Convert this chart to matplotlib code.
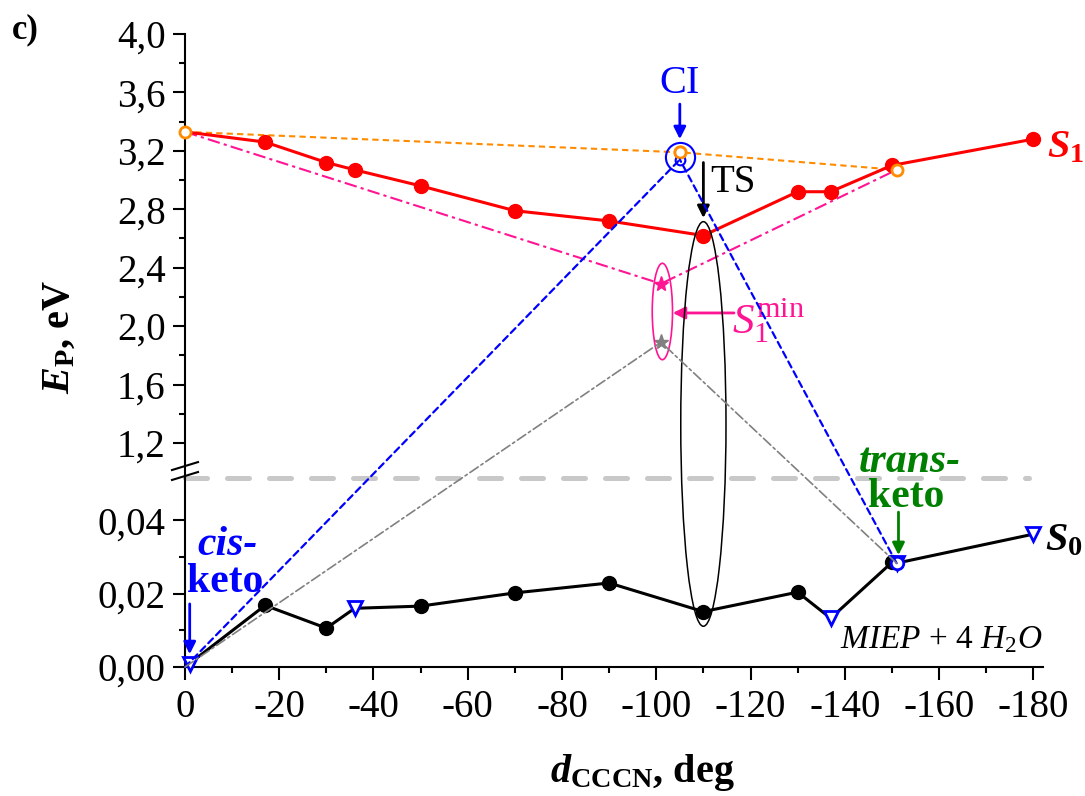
import numpy as np
import matplotlib
matplotlib.use('Agg')
import matplotlib.pyplot as plt
from matplotlib.patches import Ellipse, ConnectionPatch
from matplotlib.lines import Line2D
from matplotlib.ticker import FuncFormatter, FixedLocator

plt.rcParams['font.family'] = ['Liberation Serif', 'DejaVu Serif']
plt.rcParams['axes.unicode_minus'] = False
plt.rcParams['mathtext.fontset'] = 'custom'
plt.rcParams['mathtext.rm'] = 'Liberation Serif'
plt.rcParams['mathtext.it'] = 'Liberation Serif:italic'
plt.rcParams['mathtext.bf'] = 'Liberation Serif:bold'
plt.rcParams['mathtext.bfit'] = 'Liberation Serif:italic:bold'

# S1 scan (eV)
s1_x = [0, -17, -30, -36, -50, -70, -90, -110, -130, -137, -150, -180]
s1_e = [3.33, 3.26, 3.12, 3.07, 2.96, 2.79, 2.72, 2.62, 2.92, 2.92, 3.10, 3.28]

# S0 scan (eV)
s0_x = [0, -17, -30, -36, -50, -70, -90, -110, -130, -137, -150, -151, -180]
s0_e = [0.0, 0.0168, 0.0106, 0.016, 0.0166, 0.0202, 0.0229, 0.0151, 0.0204, 0.0133, 0.0285, 0.0283, 0.0362]
s0_dot_x = [-17, -30, -50, -70, -90, -110, -130, -150]
s0_dot_e = [0.0168, 0.0106, 0.0166, 0.0202, 0.0229, 0.0151, 0.0204, 0.0285]

# optimized S0 structures (triangles)
opt_x = [-1, -36, -137, -151, -180]
opt_e = [0.0008, 0.016, 0.0133, 0.0283, 0.0362]

# vertical S1 energies at cis, CI, trans geometries
vert_x = [0, -105, -151]
vert_e = [3.33, 3.19, 3.07]

# S1 min (pink) and S0 at S1 min geometry (gray)
s1min_x = -101
s1min_e = 2.29
s0min_e = 1.89

# CI point
ci_x = -105
ci_e = 3.16
ci_s0 = 3.14

# cis / trans keto
cis = (0, 0.0)
trans = (-151, 0.0283)

fig = plt.figure(figsize=(10.85, 7.96), dpi=100)
ax_top = fig.add_axes([0.1705, 0.3995, 0.7905, 0.5578])
ax_bot = fig.add_axes([0.1705, 0.162, 0.7905, 0.2375])

tick_fs = 28
for ax in (ax_top, ax_bot):
    ax.set_xlim(0, -182)
    ax.spines['right'].set_visible(False)
    ax.spines['top'].set_visible(False)
    ax.spines['left'].set_linewidth(1.5)
    ax.spines['bottom'].set_linewidth(1.5)
    ax.tick_params(which='major', direction='out', length=9, width=1.5, labelsize=tick_fs, pad=5)
    ax.tick_params(which='minor', direction='out', length=4.5, width=1.5)
    ax.patch.set_alpha(0)
ax_bot.tick_params(axis='x', which='major', pad=7)

ax_top.spines['bottom'].set_visible(False)
ax_top.tick_params(axis='x', which='both', bottom=False, labelbottom=False)
ax_top.set_ylim(0.96, 4.0)
ax_top.yaxis.set_major_locator(FixedLocator(np.arange(1.2, 4.01, 0.4)))
ax_top.yaxis.set_minor_locator(FixedLocator(np.arange(1.4, 3.81, 0.4)))
ax_top.yaxis.set_major_formatter(FuncFormatter(lambda v, p: f'{v:.1f}'.replace('.', ',')))

ax_bot.set_ylim(0, 0.0515)
ax_bot.yaxis.set_major_locator(FixedLocator([0, 0.02, 0.04]))
ax_bot.yaxis.set_minor_locator(FixedLocator([0.01, 0.03]))
ax_bot.yaxis.set_major_formatter(FuncFormatter(lambda v, p: f'{v:.2f}'.replace('.', ',')))
ax_bot.xaxis.set_major_locator(FixedLocator(np.arange(0, -181, -20)))
ax_bot.xaxis.set_minor_locator(FixedLocator(np.arange(-10, -171, -20)))
ax_bot.xaxis.set_major_formatter(FuncFormatter(lambda v, p: str(int(round(v)))))

red = '#ff0000'
orange = '#ff8c00'
pink = '#ff1493'
blue = '#0000ff'
green = '#008000'
gray = '#808080'

# S1 curve
ax_top.plot(s1_x, s1_e, color=red, lw=2.2, zorder=4)
ax_top.plot(s1_x[1:], s1_e[1:], 'o', color=red, ms=10, zorder=5)

# vertical S1 (orange dashed)
ax_top.plot(vert_x, vert_e, color=orange, lw=1.5, ls=(0, (3, 2)), zorder=3)
ax_top.plot(vert_x, vert_e, 'o', mfc='white', mec=orange, mew=2, ms=8, zorder=6, clip_on=False)

# S1 min path (pink dash-dot)
ax_top.plot([vert_x[0], s1min_x, vert_x[2]], [vert_e[0], s1min_e, vert_e[2]],
            color=pink, lw=1.5, ls=(0, (6, 2, 1.5, 2)), zorder=3)
ax_top.plot(s1min_x, s1min_e, '*', color=pink, ms=11, zorder=6)
ax_top.plot(s1min_x, s0min_e, '*', color=gray, ms=11, zorder=6)
ax_top.add_patch(Ellipse((s1min_x - 0.3, 2.10), width=4.3, height=0.66, fill=False, ec=pink, lw=1.2, zorder=6))

# CI markers
ax_top.plot(ci_x, ci_e, 'o', mfc='none', mec=blue, mew=1.5, ms=21, zorder=7)
ax_top.plot(ci_x, ci_s0, 'o', mfc='white', mec=blue, mew=1.5, ms=7, zorder=6)
ax_top.plot(ci_x, 3.19, 'o', mfc='white', mec=orange, mew=2, ms=8, zorder=7)

# TS ellipse across both panels
ax_top.add_patch(Ellipse((-110, 1.33), width=9.6, height=2.77, fill=False, ec='black', lw=1.1,
                         zorder=6, clip_on=False))

# S0 curve
ax_bot.plot(s0_x, s0_e, color='black', lw=2.2, zorder=4, clip_on=False)
ax_bot.plot(s0_dot_x, s0_dot_e, 'o', color='black', ms=10, zorder=5)
ax_bot.plot(opt_x, opt_e, 'v', mfc='white', mec=blue, mew=2, ms=10, zorder=6, clip_on=False)
ax_bot.plot(trans[0], trans[1], 'o', mfc='white', mec=blue, mew=2, ms=9, zorder=7)


def cross_line(xa, ya, xb, yb, **kw):
    con = ConnectionPatch(xyA=(xa, ya), coordsA=ax_bot.transData,
                          xyB=(xb, yb), coordsB=ax_top.transData, **kw)
    fig.add_artist(con)


# blue dotted: cis -> CI -> trans
cross_line(cis[0], cis[1], ci_x, ci_s0, color=blue, lw=1.6, ls=(0, (3, 2)))
cross_line(trans[0], trans[1], ci_x, ci_s0, color=blue, lw=1.6, ls=(0, (3, 2)))
# gray dash-dot: cis -> S1min geometry -> trans
cross_line(cis[0], cis[1], s1min_x, s0min_e, color=gray, lw=1.2, ls=(0, (6, 2, 1.5, 2)))
cross_line(trans[0], trans[1], s1min_x, s0min_e, color=gray, lw=1.2, ls=(0, (6, 2, 1.5, 2)))

# axis break
ax_top.plot([0, -179], [0.96, 0.96], color='#c8c8c8', lw=3.6, ls=(0, (4.4, 4.0)),
            solid_capstyle='round', dash_capstyle='round', clip_on=False, zorder=2)
fig.add_artist(Line2D([0.1585, 0.1825], [0.4095, 0.4195], color='black', lw=1.5))
fig.add_artist(Line2D([0.1585, 0.1825], [0.3970, 0.4070], color='black', lw=1.5))

# annotations
arrow = dict(arrowstyle='-|>', lw=2, mutation_scale=18, shrinkA=0, shrinkB=0)
ax_top.text(ci_x, 3.66, 'CI', color=blue, fontsize=29, ha='center', va='center')
ax_top.annotate('', xy=(ci_x, 3.28), xytext=(ci_x, 3.52), arrowprops=dict(arrow, color=blue))

ax_top.text(-111.5, 2.98, 'TS', color='black', fontsize=28, ha='left', va='center')
ax_top.annotate('', xy=(-110, 2.74), xytext=(-110, 3.12), arrowprops=dict(arrow, color='black'))

ax_top.text(-116, 2.04, r'$S_1^{\mathrm{min}}$', color=pink, fontsize=31, ha='left', va='center')
ax_top.annotate('', xy=(-103.5, 2.09), xytext=(-116.5, 2.09), arrowprops=dict(arrow, color=pink))

ax_top.text(-183, 3.22, r'$\mathbfit{S}_{\mathbf{1}}$', color=red, fontsize=29, ha='left', va='center')
ax_bot.text(-182.5, 0.0345, r'$\mathbfit{S}_{\mathbf{0}}$', color='black', fontsize=29, ha='left', va='center')

ax_bot.text(-9, 0.0332, 'cis-', color=blue, fontsize=30, fontweight='bold', style='italic',
            ha='center', va='center')
ax_bot.text(-8.5, 0.0232, 'keto', color=blue, fontsize=30, fontweight='bold', ha='center', va='center')
ax_bot.annotate('', xy=(-1, 0.0035), xytext=(-1, 0.0172), arrowprops=dict(arrow, color=blue))

ax_bot.text(-153.7, 0.0558, 'trans-', color=green, fontsize=30, fontweight='bold', style='italic',
            ha='center', va='center', clip_on=False)
ax_bot.text(-153, 0.0463, 'keto', color=green, fontsize=30, fontweight='bold', ha='center', va='center')
ax_bot.annotate('', xy=(-151.4, 0.0305), xytext=(-151.4, 0.0422), arrowprops=dict(arrow, color=green))

ax_bot.text(-182, 0.0075, r'$MIEP$ + 4 $H_2O$', fontsize=24, ha='right', va='center')

fig.text(0.011, 0.962, 'c)', fontsize=25, fontweight='bold', ha='left', va='center')
fig.text(0.055, 0.577, r'$\mathbfit{E}_{\mathbf{P}}$, eV', fontsize=29, fontweight='bold',
         rotation=90, ha='center', va='center')
fig.text(0.592, 0.03, r'$\mathbfit{d}_{\mathbf{CCCN}}$, deg', fontsize=29, fontweight='bold',
         ha='center', va='center')

fig.savefig('out.png', dpi=100)
